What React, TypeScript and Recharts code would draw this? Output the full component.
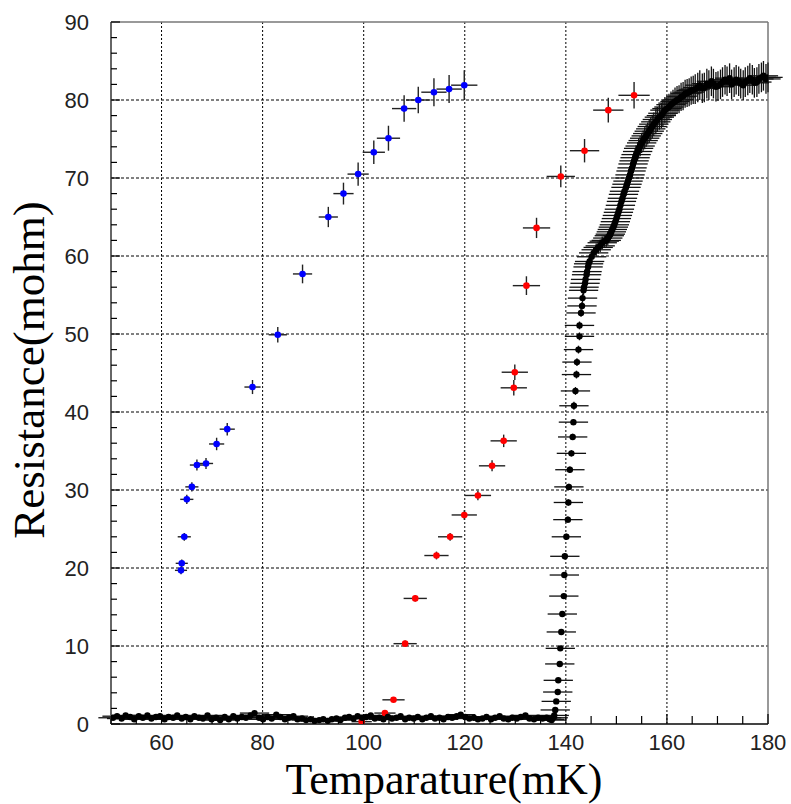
import { ScatterChart, Scatter, XAxis, YAxis, ErrorBar, ReferenceLine } from "recharts"

// [temperature, resistance, errT, errR]
type Row = [number, number, number, number]

const xTicks = [50, 55, 60, 65, 70, 75, 80, 85, 90, 95, 100, 105, 110, 115, 120, 125, 130, 135, 140, 145, 150, 155, 160, 165, 170, 175, 180]
const yTicks = [0, 2, 4, 6, 8, 10, 12, 14, 16, 18, 20, 22, 24, 26, 28, 30, 32, 34, 36, 38, 40, 42, 44, 46, 48, 50, 52, 54, 56, 58, 60, 62, 64, 66, 68, 70, 72, 74, 76, 78, 80, 82, 84, 86, 88, 90]
const xLabels = [60, 80, 100, 120, 140, 160, 180]
const yLabels = [0, 10, 20, 30, 40, 50, 60, 70, 80, 90]
const xGrid = [60, 80, 100, 120, 140, 160]
const yGrid = [10, 20, 30, 40, 50, 60, 70, 80]

const blueRows: Row[] = [
  [63.85, 19.7, 1.2, 0.5], [64.0, 20.6, 1.2, 0.5], [64.5, 24.0, 1.3, 0.5], [65.0, 28.8, 1.3, 0.6],
  [66.0, 30.4, 1.3, 0.6], [67.0, 33.2, 1.4, 0.7], [68.8, 33.4, 1.4, 0.7], [70.9, 35.9, 1.5, 0.8],
  [73.0, 37.8, 1.5, 0.8], [78.0, 43.2, 1.6, 0.9], [83.0, 49.9, 1.8, 1.0], [87.9, 57.7, 1.9, 1.2],
  [93.0, 65.0, 1.9, 1.3], [96.0, 68.0, 2.0, 1.4], [98.9, 70.5, 2.1, 1.5], [102.0, 73.3, 2.2, 1.5],
  [104.9, 75.1, 2.3, 1.6], [108.0, 78.9, 2.4, 1.7], [110.8, 80.0, 2.4, 1.7], [113.9, 81.0, 2.5, 1.8],
  [116.9, 81.4, 2.5, 1.8], [119.9, 81.9, 2.6, 1.9],
]

const redRows: Row[] = [
  [99.6, 0.3, 2.0, 0.2], [104.2, 1.4, 2.1, 0.3], [105.9, 3.1, 2.2, 0.3], [108.2, 10.3, 2.3, 0.4],
  [110.2, 16.1, 2.3, 0.4], [114.4, 21.6, 2.4, 0.5], [117.1, 24.0, 2.4, 0.5], [119.9, 26.8, 2.5, 0.6],
  [122.6, 29.3, 2.6, 0.6], [125.4, 33.1, 2.6, 0.7], [127.7, 36.3, 2.6, 0.8], [129.7, 43.1, 2.6, 1.0],
  [129.9, 45.1, 2.6, 1.0], [132.2, 56.2, 2.7, 1.2], [134.2, 63.6, 2.7, 1.3], [139.0, 70.2, 2.8, 1.4],
  [143.7, 73.5, 2.9, 1.5], [148.4, 78.7, 3.0, 1.6], [153.5, 80.6, 3.1, 1.7],
]

// superconducting baseline, near zero
const blackBase: Row[] = [
  [50.4, 0.8, 2.9, 0.3], [51.2, 1.0, 2.9, 0.3], [52.1, 0.7, 2.9, 0.3], [52.9, 1.1, 2.9, 0.3], [53.8, 0.9, 2.9, 0.3],
  [54.6, 0.6, 2.9, 0.3], [55.5, 1.0, 2.9, 0.3], [56.3, 0.8, 2.9, 0.3], [57.2, 1.1, 2.9, 0.3], [58.0, 0.7, 2.9, 0.3],
  [58.9, 0.9, 2.9, 0.3], [59.7, 1.0, 2.9, 0.3], [60.6, 0.6, 2.9, 0.3], [61.4, 0.9, 2.9, 0.3], [62.3, 0.8, 2.9, 0.3],
  [63.1, 1.1, 2.9, 0.3], [64.0, 0.7, 2.9, 0.3], [64.8, 0.9, 2.9, 0.3], [65.7, 0.6, 2.9, 0.3], [66.5, 1.0, 2.9, 0.3],
  [67.4, 0.8, 2.9, 0.3], [68.2, 0.7, 2.9, 0.3], [69.1, 1.1, 2.9, 0.3], [69.9, 0.6, 2.9, 0.3], [70.8, 0.8, 2.9, 0.3],
  [71.6, 0.5, 2.9, 0.3], [72.5, 0.9, 2.9, 0.3], [73.3, 0.6, 2.9, 0.3], [74.2, 1.0, 2.9, 0.3], [75.0, 0.7, 2.9, 0.3],
  [75.9, 0.9, 2.9, 0.3], [76.7, 0.8, 2.9, 0.3], [77.6, 1.1, 2.9, 0.3], [78.4, 1.4, 2.9, 0.3], [79.3, 0.8, 2.9, 0.3],
  [80.1, 0.6, 2.9, 0.3], [81.0, 0.9, 2.9, 0.3], [81.8, 0.7, 2.9, 0.3], [82.7, 1.2, 2.9, 0.3], [83.5, 0.9, 2.9, 0.3],
  [84.4, 0.6, 2.9, 0.3], [85.2, 0.8, 2.9, 0.3], [86.1, 1.0, 2.9, 0.3], [86.9, 0.6, 2.9, 0.3], [87.8, 0.7, 2.9, 0.3],
  [88.6, 0.5, 2.9, 0.3], [89.5, 0.6, 2.9, 0.3], [90.3, 0.4, 2.9, 0.3], [91.2, 0.5, 2.9, 0.3], [92.0, 0.6, 2.9, 0.3],
  [92.9, 0.4, 2.9, 0.3], [93.7, 0.6, 2.9, 0.3], [94.6, 0.7, 2.9, 0.3], [95.4, 0.5, 2.9, 0.3], [96.3, 0.8, 2.9, 0.3],
  [97.1, 0.9, 2.9, 0.3], [98.0, 0.7, 2.9, 0.3], [98.8, 1.0, 2.9, 0.3], [99.7, 0.8, 2.9, 0.3], [100.5, 0.9, 2.9, 0.3],
  [101.4, 1.1, 2.9, 0.3], [102.2, 0.7, 2.9, 0.3], [103.1, 0.8, 2.9, 0.3], [103.9, 0.6, 2.9, 0.3], [104.8, 0.9, 2.9, 0.3],
  [105.6, 0.7, 2.9, 0.3], [106.5, 0.8, 2.9, 0.3], [107.3, 1.0, 2.9, 0.3], [108.2, 0.6, 2.9, 0.3], [109.0, 0.8, 2.9, 0.3],
  [109.9, 0.7, 2.9, 0.3], [110.7, 0.9, 2.9, 0.3], [111.6, 0.6, 2.9, 0.3], [112.4, 0.8, 2.9, 0.3], [113.3, 1.0, 2.9, 0.3],
  [114.1, 0.7, 2.9, 0.3], [115.0, 0.8, 2.9, 0.3], [115.8, 0.6, 2.9, 0.3], [116.7, 0.9, 2.9, 0.3], [117.5, 0.8, 2.9, 0.3],
  [118.4, 1.0, 2.9, 0.3], [119.2, 1.2, 2.9, 0.3], [120.1, 0.9, 2.9, 0.3], [120.9, 0.7, 2.9, 0.3], [121.8, 0.8, 2.9, 0.3],
  [122.6, 0.6, 2.9, 0.3], [123.5, 0.7, 2.9, 0.3], [124.3, 0.9, 2.9, 0.3], [125.2, 0.6, 2.9, 0.3], [126.0, 0.8, 2.9, 0.3],
  [126.9, 1.0, 2.9, 0.3], [127.7, 0.7, 2.9, 0.3], [128.6, 0.6, 2.9, 0.3], [129.4, 0.8, 2.9, 0.3], [130.3, 0.7, 2.9, 0.3],
  [131.1, 0.9, 2.9, 0.3], [132.0, 1.1, 2.9, 0.3], [132.8, 0.7, 2.9, 0.3], [133.7, 0.6, 2.9, 0.3], [134.5, 0.8, 2.9, 0.3],
  [135.4, 0.7, 2.9, 0.3], [136.2, 0.8, 2.9, 0.3], [136.8, 0.6, 2.9, 0.3],
]

// the transition
const blackRise: Row[] = [
  [137.2, 0.5, 2.9, 0.2], [137.5, 0.8, 2.9, 0.2], [137.7, 1.1, 2.9, 0.2], [137.9, 1.8, 2.9, 0.3],
  [138.1, 2.9, 2.9, 0.3], [138.4, 4.1, 2.9, 0.3], [138.5, 5.6, 2.9, 0.3], [138.8, 7.7, 2.9, 0.3],
  [138.9, 9.7, 2.9, 0.3], [139.1, 11.8, 2.9, 0.3], [139.3, 14.1, 2.9, 0.3], [139.6, 16.4, 2.9, 0.3],
  [139.7, 19.1, 2.9, 0.3], [139.8, 21.5, 2.9, 0.4], [140.1, 24.0, 2.9, 0.4], [140.4, 26.2, 2.9, 0.4],
  [140.5, 28.4, 2.9, 0.4], [140.6, 30.4, 2.9, 0.4], [140.8, 32.6, 2.9, 0.4], [141.1, 34.7, 2.9, 0.4],
  [141.35, 36.8, 2.9, 0.4], [141.5, 38.7, 2.9, 0.4], [141.6, 40.8, 2.9, 0.5], [141.9, 42.7, 2.9, 0.5],
  [142.1, 44.8, 2.9, 0.5], [142.2, 46.4, 2.9, 0.5], [142.5, 48.0, 2.9, 0.5], [142.7, 49.7, 2.9, 0.5],
  [142.7, 51.1, 2.9, 0.5], [143.0, 52.7, 2.9, 0.5], [143.2, 53.6, 2.9, 0.5], [143.3, 54.6, 2.9, 0.6],
  [143.5, 55.6, 2.9, 0.6], [143.6, 56.0, 2.9, 0.6], [143.8, 56.5, 2.9, 0.6], [143.9, 57.0, 2.9, 0.6],
  [144.1, 57.6, 2.9, 0.6], [144.2, 58.0, 2.9, 0.6], [144.4, 58.6, 2.9, 0.7], [144.5, 59.0, 2.9, 0.7],
  [144.7, 59.3, 2.9, 0.7], [145.1, 59.9, 2.9, 0.7], [145.5, 60.4, 2.9, 0.7], [146.0, 60.8, 2.9, 0.8],
  [146.4, 61.1, 2.9, 0.8], [146.8, 61.3, 2.9, 0.8], [147.2, 61.7, 2.9, 0.8], [147.6, 61.9, 2.9, 0.8],
  [148.0, 62.0, 2.9, 0.8], [148.3, 62.3, 2.9, 0.9], [148.6, 62.6, 2.9, 0.9], [148.8, 62.8, 2.9, 0.9],
  [149.0, 63.1, 2.9, 0.9], [149.2, 63.4, 2.9, 0.9], [149.4, 63.7, 2.9, 0.9], [149.6, 64.0, 2.9, 0.9],
  [149.8, 64.4, 2.9, 1.0], [150.0, 64.8, 2.9, 1.0], [150.2, 65.2, 2.9, 1.0], [150.4, 65.6, 2.9, 1.0],
  [150.6, 66.0, 2.9, 1.0], [150.8, 66.5, 2.9, 1.0], [151.0, 67.0, 2.9, 1.0], [151.2, 67.4, 2.9, 1.0],
  [151.4, 67.9, 2.9, 1.0], [151.6, 68.3, 2.9, 1.1], [151.9, 68.8, 2.9, 1.1], [152.1, 69.2, 2.9, 1.1],
  [152.3, 69.6, 2.9, 1.1], [152.5, 70.0, 2.9, 1.1], [152.7, 70.4, 2.9, 1.1], [152.9, 70.9, 2.9, 1.1],
  [153.1, 71.3, 2.9, 1.2], [153.3, 71.8, 2.9, 1.2], [153.5, 72.2, 2.9, 1.2], [153.7, 72.6, 2.9, 1.2],
  [153.9, 73.0, 2.9, 1.2], [154.2, 73.4, 2.9, 1.2], [154.4, 73.8, 2.9, 1.3], [154.7, 74.1, 2.9, 1.3],
  [155.0, 74.5, 2.9, 1.3], [155.3, 74.8, 2.9, 1.3],
]

// normal state, top right
const blackTop: Row[] = [
  [155.6, 75.1, 2.9, 1.4], [155.9, 75.4, 2.9, 1.4], [156.2, 75.7, 2.9, 1.4], [156.5, 76.0, 2.9, 1.5],
  [156.8, 76.3, 2.9, 1.5], [157.1, 76.6, 2.9, 1.5], [157.4, 76.9, 2.9, 1.5], [157.8, 77.2, 2.9, 1.6],
  [158.1, 77.5, 2.9, 1.6], [158.5, 77.8, 2.9, 1.6], [158.9, 78.0, 2.9, 1.6], [159.2, 78.3, 2.9, 1.7],
  [159.6, 78.7, 2.9, 1.7], [160.0, 78.9, 2.9, 1.7], [160.4, 79.1, 2.9, 1.7], [160.8, 79.4, 2.9, 1.7],
  [161.2, 79.6, 2.9, 1.7], [161.6, 79.8, 2.9, 1.8], [162.0, 80.0, 2.9, 1.8], [162.4, 80.1, 2.9, 1.8],
  [162.8, 80.4, 2.9, 1.8], [163.2, 80.5, 2.9, 1.8], [163.6, 80.8, 2.9, 1.8], [164.0, 80.9, 2.9, 1.8],
  [164.4, 81.0, 2.9, 1.8], [164.8, 81.2, 2.9, 1.8], [165.2, 81.3, 2.9, 1.8], [165.6, 81.4, 2.9, 1.9],
  [166.1, 81.6, 2.9, 1.9], [166.5, 81.9, 2.9, 1.9], [167.0, 81.5, 2.9, 1.9], [167.4, 81.6, 2.9, 1.9],
  [167.9, 82.1, 2.9, 1.9], [168.3, 81.9, 2.9, 1.9], [168.8, 82.4, 2.9, 1.9], [169.2, 82.1, 2.9, 1.9],
  [169.7, 81.7, 2.9, 1.9], [170.1, 81.8, 2.9, 1.9], [170.6, 82.0, 2.9, 1.9], [171.0, 82.3, 2.9, 1.9],
  [171.5, 82.6, 2.9, 1.9], [171.9, 82.4, 2.9, 1.9], [172.4, 82.8, 2.9, 1.9], [172.8, 82.0, 2.9, 1.9],
  [173.3, 82.3, 2.9, 1.9], [173.7, 82.6, 2.9, 1.9], [174.2, 82.4, 2.9, 1.9], [174.6, 82.1, 2.9, 1.9],
  [175.1, 81.9, 2.9, 1.9], [175.5, 82.3, 2.9, 1.9], [176.0, 82.5, 2.9, 1.9], [176.4, 82.8, 2.9, 1.9],
  [176.9, 82.6, 2.9, 1.9], [177.3, 82.2, 2.9, 1.9], [177.8, 82.3, 2.9, 1.9], [178.2, 82.7, 2.9, 1.9],
  [178.7, 82.9, 2.9, 1.9], [179.1, 83.1, 2.9, 1.9], [179.6, 82.7, 2.9, 1.9], [180.0, 82.9, 2.9, 1.9],
]

const toPoints = (rows: Row[]) => rows.map(([t, r, et, er]) => ({ t, r, et, er }))

const blue = toPoints(blueRows)
const red = toPoints(redRows)
const black = toPoints([...blackBase, ...blackRise, ...blackTop])

const tickFont = "'Liberation Sans', Arial, sans-serif"
const titleFont = "'Liberation Serif', 'Times New Roman', serif"

const XTick = (props: any) => {
  const { x, y, payload } = props
  const v = payload.value
  const major = xLabels.includes(v)
  return (
    <g>
      <line x1={x} x2={x} y1={y} y2={y - (major ? 10 : 8)} stroke="#000" strokeWidth={1.2} />
      {major && (
        <text x={x} y={y + 26} textAnchor="middle" fontSize={22} fontFamily={tickFont} fill="#222">
          {v}
        </text>
      )}
    </g>
  )
}

const YTick = (props: any) => {
  const { x, y, payload } = props
  const v = payload.value
  const major = yLabels.includes(v)
  return (
    <g>
      <line x1={x} x2={x + (major ? 9 : 6)} y1={y} y2={y} stroke="#000" strokeWidth={1.2} />
      {major && (
        <text x={x - 22} y={y + 8} textAnchor="end" fontSize={22} fontFamily={tickFont} fill="#222">
          {v}
        </text>
      )}
    </g>
  )
}

const dot = (color: string, r: number) => (p: any) => <circle cx={p.cx} cy={p.cy} r={r} fill={color} />

export default function App() {
  return (
    <div style={{ position: "absolute", left: 0, top: 0, width: 791, height: 804, background: "#fff" }}>
      <ScatterChart width={791} height={804} margin={{ top: 22, right: 23, bottom: 0, left: 0 }}>
        <XAxis
          type="number"
          dataKey="t"
          domain={[50, 180]}
          allowDataOverflow
          ticks={xTicks}
          interval={0}
          tickSize={0}
          tickMargin={0}
          tickLine={false}
          tick={<XTick />}
          height={80}
          axisLine={{ stroke: "#444", strokeWidth: 2 }}
          label={() => (
            <text x={444} y={794} textAnchor="middle" fontSize={44} fontFamily={titleFont} fill="#000">
              Temparature(mK)
            </text>
          )}
        />
        <YAxis
          type="number"
          dataKey="r"
          domain={[0, 90]}
          allowDataOverflow
          ticks={yTicks}
          interval={0}
          tickSize={0}
          tickMargin={0}
          tickLine={false}
          tick={<YTick />}
          width={111}
          axisLine={{ stroke: "#666", strokeWidth: 2 }}
          label={() => (
            <text
              x={44}
              y={370}
              transform="rotate(-90, 44, 370)"
              textAnchor="middle"
              fontSize={45}
              fontFamily={titleFont}
              fill="#000"
            >
              Resistance(mohm)
            </text>
          )}
        />
        {xGrid.map((v) => (
          <ReferenceLine key={`gx${v}`} x={v} stroke="#000" strokeWidth={1} strokeDasharray="2 2" />
        ))}
        {yGrid.map((v) => (
          <ReferenceLine key={`gy${v}`} y={v} stroke="#000" strokeWidth={1} strokeDasharray="3 2" />
        ))}
        <ReferenceLine y={90} stroke="#777" strokeWidth={1.5} />
        <ReferenceLine x={180} stroke="#777" strokeWidth={1.5} />
        <Scatter data={red} shape={dot("#ff0000", 3.3)} isAnimationActive={false}>
          <ErrorBar dataKey="et" direction="x" width={0} stroke="#222" strokeWidth={1.4} />
          <ErrorBar dataKey="er" direction="y" width={0} stroke="#222" strokeWidth={1.4} />
        </Scatter>
        <Scatter data={blue} shape={dot("#0000ff", 3.3)} isAnimationActive={false}>
          <ErrorBar dataKey="et" direction="x" width={0} stroke="#222" strokeWidth={1.4} />
          <ErrorBar dataKey="er" direction="y" width={0} stroke="#222" strokeWidth={1.4} />
        </Scatter>
        <Scatter data={black} shape={dot("#000", 3.2)} isAnimationActive={false}>
          <ErrorBar dataKey="et" direction="x" width={0} stroke="#111" strokeWidth={1.3} />
          <ErrorBar dataKey="er" direction="y" width={0} stroke="#111" strokeWidth={1.3} />
        </Scatter>
      </ScatterChart>
    </div>
  )
}
